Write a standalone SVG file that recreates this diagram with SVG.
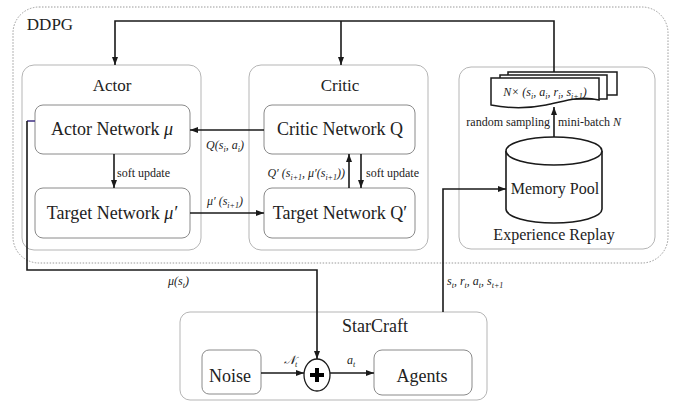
<svg xmlns="http://www.w3.org/2000/svg" width="687" height="401" viewBox="0 0 687 401">
<defs>
<marker id="ah" markerUnits="userSpaceOnUse" markerWidth="8" markerHeight="6" refX="8" refY="3" orient="auto">
<path d="M0,0 L8,3 L0,6 z" fill="#1a1a1a"/>
</marker>
<style>
.t{font-family:"Liberation Serif","Times New Roman",serif;fill:#222}
.mid{text-anchor:middle}
.st{text-anchor:start}
.en{text-anchor:end}
.title{font-size:17px}
.node{font-size:18px}
.small{font-size:12px}
.m{font-style:italic;font-size:12px}
.sub{font-size:8px}
.grp{fill:none;stroke:#b5b5b5;stroke-width:1}
.box{fill:#fff;stroke:#8a8a8a;stroke-width:1}
.ca{fill:none;stroke:#1a1a1a;stroke-width:1.6;marker-end:url(#ah)}
</style>
</defs>
<rect width="687" height="401" fill="#fff"/>

<g id="ddpg">
<rect x="13" y="7" width="655" height="256" rx="26" fill="none" stroke="#9a9a9a" stroke-width="1" stroke-dasharray="1.5,1.5"/>
<text class="t title mid" x="50" y="30">DDPG</text>
</g>

<g id="actor">
<rect class="grp" x="22" y="65" width="179" height="185" rx="12"/>
<text class="t title mid" x="112" y="91">Actor</text>
</g>
<g id="actor-network">
<rect class="box" x="35" y="105" width="155" height="49" rx="8"/>
<text class="t node mid" x="112" y="135">Actor Network <tspan font-style="italic">μ</tspan></text>
</g>
<g id="target-actor">
<rect class="box" x="35" y="188" width="155" height="50" rx="8"/>
<text class="t node mid" x="112" y="219">Target Network <tspan font-style="italic">μ′</tspan></text>
</g>

<g id="critic">
<rect class="grp" x="249" y="65" width="179" height="185" rx="12"/>
<text class="t title mid" x="340" y="91">Critic</text>
</g>
<g id="critic-network">
<rect class="box" x="264" y="105" width="151" height="49" rx="8"/>
<text class="t node mid" x="340" y="135">Critic Network Q</text>
</g>
<g id="target-critic">
<rect class="box" x="264" y="188" width="151" height="50" rx="8"/>
<text class="t node mid" x="340" y="219">Target Network Q′</text>
</g>

<g id="experience-replay">
<rect class="grp" x="459" y="67" width="196" height="182" rx="12"/>
<text class="t mid" x="554" y="240" font-size="16">Experience Replay</text>
</g>
<g id="minibatch">
<rect x="508" y="72" width="109" height="23" fill="#fff" stroke="#1a1a1a" stroke-width="1.5"/>
<rect x="500" y="75" width="107" height="24" fill="#fff" stroke="#1a1a1a" stroke-width="1.5"/>
<path d="M491,78 H599 V100 C578,95 562,102 546,105 C526,109 506,108 491,105 Z" fill="#fff" stroke="#1a1a1a" stroke-width="1.5"/>
<text class="t m mid" x="545" y="96">N× (s<tspan class="sub" dy="3">i</tspan><tspan dy="-3">, a</tspan><tspan class="sub" dy="3">i</tspan><tspan dy="-3">, r</tspan><tspan class="sub" dy="3">i</tspan><tspan dy="-3">, s</tspan><tspan class="sub" dy="3">i+1</tspan><tspan dy="-3">)</tspan></text>
</g>
<g id="memory-pool">
<path d="M506,151 V209 A48,14 0 0 0 602,209 V151" fill="#fff" stroke="#1a1a1a" stroke-width="1.6"/>
<ellipse cx="554" cy="151" rx="48" ry="14" fill="#fff" stroke="#1a1a1a" stroke-width="1.6"/>
<text class="t mid" x="555" y="194" font-size="16">Memory Pool</text>
</g>

<g id="starcraft">
<rect class="grp" x="180" y="312" width="307" height="88" rx="10"/>
<text class="t mid" x="375" y="332" font-size="18">StarCraft</text>
</g>
<g id="noise">
<rect class="box" x="202" y="350" width="59" height="44" rx="7"/>
<text class="t node mid" x="230" y="382">Noise</text>
</g>
<g id="plus">
<ellipse cx="317" cy="375" rx="13" ry="16" fill="#fff" stroke="#1a1a1a" stroke-width="1.3"/>
<path d="M317,368 V382 M310,375 H324" stroke="#000" stroke-width="4"/>
</g>
<g id="agents">
<rect class="box" x="374" y="350" width="98" height="45" rx="8"/>
<text class="t node mid" x="422" y="382">Agents</text>
</g>

<g id="connectors">
<polyline class="ca" points="554,72 554,21 115,21 115,65"/>
<line class="ca" x1="341" y1="21" x2="341" y2="65"/>
<line class="ca" x1="264" y1="130" x2="190" y2="130"/>
<line class="ca" x1="190" y1="213" x2="264" y2="213"/>
<line class="ca" x1="114" y1="154" x2="114" y2="188"/>
<line class="ca" x1="349" y1="188" x2="349" y2="154"/>
<line class="ca" x1="361" y1="154" x2="361" y2="188"/>
<line class="ca" x1="554" y1="137" x2="554" y2="107"/>
<polyline class="ca" points="443,312 443,189 506,189"/>
<line x1="35" y1="121" x2="27" y2="121" stroke="#4a3c8a" stroke-width="1.6"/>
<polyline class="ca" points="27,121 27,270 317,270 317,359"/>
<line class="ca" x1="261" y1="373" x2="304" y2="373"/>
<line class="ca" x1="330" y1="373" x2="374" y2="373"/>

<text class="t m mid" x="225" y="149">Q(s<tspan class="sub" dy="3">i</tspan><tspan dy="-3">, a</tspan><tspan class="sub" dy="3">i</tspan><tspan dy="-3">)</tspan></text>
<text class="t m mid" x="225" y="205">μ′ (s<tspan class="sub" dy="3">i+1</tspan><tspan dy="-3">)</tspan></text>
<text class="t small st" x="117" y="177">soft update</text>
<text class="t m en" x="345" y="177">Q′ (s<tspan class="sub" dy="3">i+1</tspan><tspan dy="-3">, μ′(s</tspan><tspan class="sub" dy="3">i+1</tspan><tspan dy="-3">))</tspan></text>
<text class="t small st" x="366" y="177">soft update</text>
<text class="t small en" x="550" y="126">random sampling</text>
<text class="t small st" x="558" y="126">mini-batch <tspan font-style="italic">N</tspan></text>
<text class="t m st" x="168" y="285">μ(s<tspan class="sub" dy="3">t</tspan><tspan dy="-3">)</tspan></text>
<text class="t m st" x="447" y="285">s<tspan class="sub" dy="3">t</tspan><tspan dy="-3">, r</tspan><tspan class="sub" dy="3">t</tspan><tspan dy="-3">, a</tspan><tspan class="sub" dy="3">t</tspan><tspan dy="-3">, s</tspan><tspan class="sub" dy="3">t+1</tspan></text>
<text class="t m st" x="284" y="364">𝒩<tspan class="sub" dy="3">t</tspan></text>
<text class="t m st" x="347" y="364">a<tspan class="sub" dy="3">t</tspan></text>
</g>
</svg>
